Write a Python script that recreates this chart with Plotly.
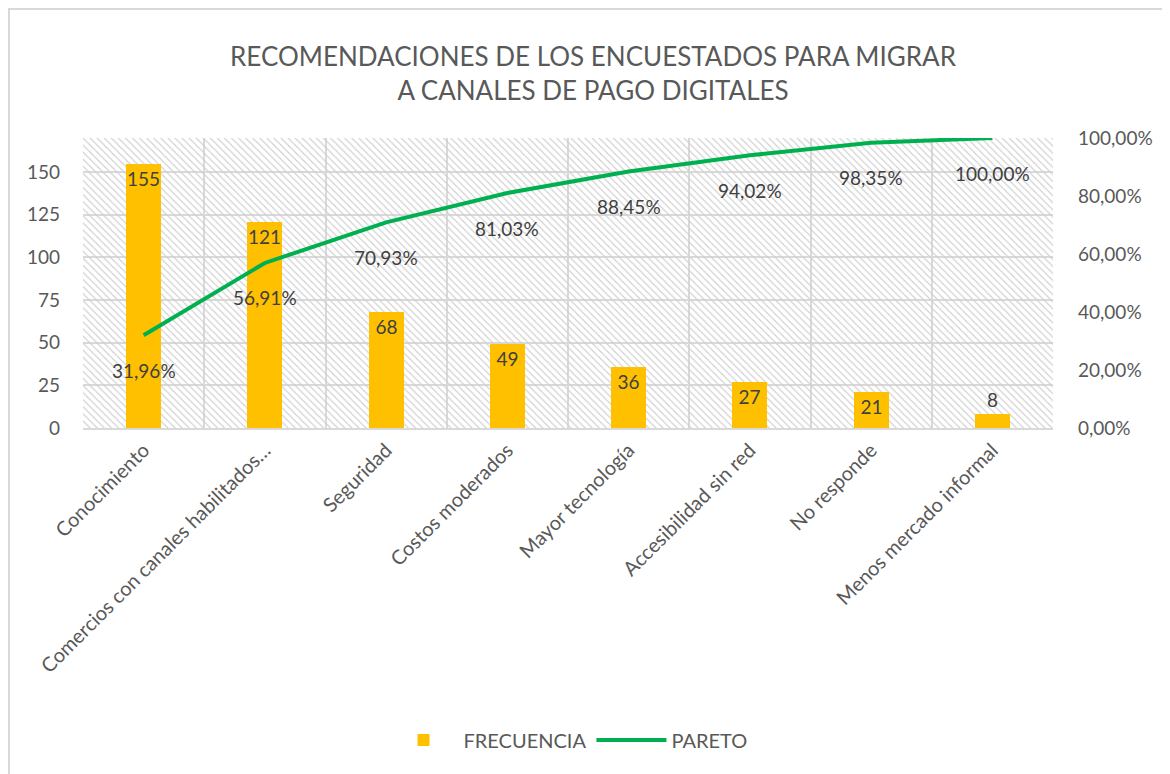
import plotly.graph_objects as go

categorias = [
    "Conocimiento",
    "Comercios con canales habilitados…",
    "Seguridad",
    "Costos moderados",
    "Mayor tecnología",
    "Accesibilidad sin red",
    "No responde",
    "Menos mercado informal",
]
frecuencia = [155, 121, 68, 49, 36, 27, 21, 8]
pareto = [0.3196, 0.5691, 0.7093, 0.8103, 0.8845, 0.9402, 0.9835, 1.0]

GRAY_TXT = '#595959'
LABEL_TXT = '#404040'
GRID = '#d9d9d9'
FONT = 'Lato'

fig = go.Figure()

# hatched plot background (decorative)
fig.add_trace(go.Bar(
    x=[0.5], y=[1], width=[1],
    marker=dict(
        color='rgba(0,0,0,0)', line_width=0,
        pattern=dict(shape='\\', fgcolor='#cfcfcf', bgcolor='rgba(0,0,0,0)',
                     size=5, solidity=0.22, fillmode='replace'),
    ),
    hoverinfo='skip', showlegend=False, xaxis='x', yaxis='y',
))

# small bars don't fit their label, put it above like Excel does
text_pos = ['inside' if v > 15 else 'outside' for v in frecuencia]

fig.add_trace(go.Bar(
    x=categorias, y=frecuencia, name='FRECUENCIA',
    marker=dict(color='#FFC000', line_width=0),
    width=0.29,
    text=[str(v) for v in frecuencia],
    textposition=text_pos, insidetextanchor='end', constraintext='none',
    textangle=0, cliponaxis=False,
    textfont=dict(size=19, color=LABEL_TXT, family=FONT),
    xaxis='x2', yaxis='y2',
))

fig.add_trace(go.Scatter(
    x=categorias, y=pareto, name='PARETO', mode='lines',
    line=dict(color='#00B050', width=4),
    xaxis='x2', yaxis='y3',
))

for c, v in zip(categorias, pareto):
    fig.add_annotation(
        x=c, y=v, xref='x2', yref='y3',
        text=f"{v*100:.2f}".replace('.', ',') + '%',
        showarrow=False, yshift=-35,
        font=dict(size=19, color=LABEL_TXT, family=FONT),
    )

# outer chart border (only top/left edges fall inside the picture)
fig.add_shape(type='rect', xref='paper', yref='paper',
              x0=-0.0763, x1=1.3, y0=-1.5, y1=1.4448,
              line=dict(color=GRID, width=2), fillcolor='rgba(0,0,0,0)',
              layer='below')

# page body has an 8px margin, so margins are trimmed by 8
fig.update_layout(
    width=1170, height=774,
    margin=dict(l=75, r=125, t=130, b=354),
    paper_bgcolor='white', plot_bgcolor='white',
    separators=',.',
    font=dict(family=FONT, color=GRAY_TXT, size=19),
    title=dict(
        text='RECOMENDACIONES DE LOS ENCUESTADOS PARA MIGRAR<br>A CANALES DE PAGO DIGITALES',
        x=0.5, xanchor='center', y=0.925, yanchor='middle', yref='container',
        font=dict(size=26, color=GRAY_TXT, family=FONT),
    ),
    bargap=0,
    xaxis=dict(range=[0, 1], visible=False, fixedrange=True),
    yaxis=dict(range=[0, 1], visible=False, fixedrange=True),
    xaxis2=dict(
        type='category', overlaying='x', anchor='y2',
        tickson='boundaries', showgrid=True, gridcolor=GRID, gridwidth=1.5,
        showline=True, linecolor=GRID, linewidth=1.5,
        ticks='', tickangle=-45, ticklabelstandoff=1,
        tickfont=dict(size=20, color=GRAY_TXT),
    ),
    yaxis2=dict(
        overlaying='y', anchor='x2', side='left',
        range=[0, 170], dtick=25, tick0=0,
        showgrid=True, gridcolor=GRID, gridwidth=1.5,
        zeroline=False, showline=False, ticks='',
        ticklabelstandoff=22,
        tickfont=dict(size=19, color=GRAY_TXT),
    ),
    yaxis3=dict(
        overlaying='y', anchor='x2', side='right',
        range=[0, 1], dtick=0.2, tick0=0, tickformat='.2%',
        showgrid=False, zeroline=False, showline=False, ticks='',
        ticklabelstandoff=24,
        tickfont=dict(size=19, color=GRAY_TXT),
    ),
    legend=dict(
        orientation='h', x=0.5, xanchor='center', y=-1.076, yanchor='middle',
        font=dict(size=20, color=GRAY_TXT), itemwidth=70,
        traceorder='normal',
    ),
)

fig.write_html("out.html")
